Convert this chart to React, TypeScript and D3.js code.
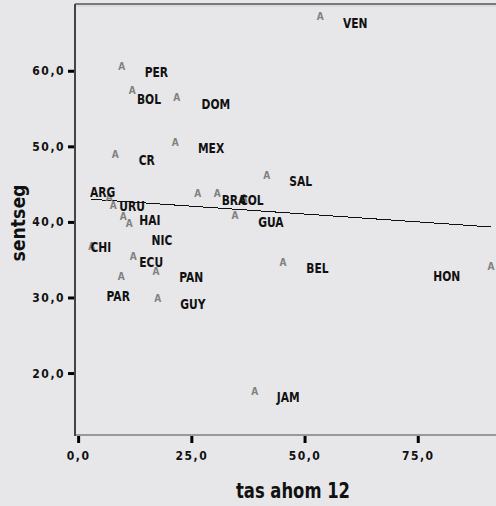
import React from 'react';
import * as d3 from 'd3';

// marker positions (tas ahom 12, sentseg)
const pointX = [53.36, 9.5, 11.84, 21.64, 21.33, 8.08, 41.52, 26.28, 30.61, 36.51, 34.52, 45.12, 91.06, 38.87, 6.76, 7.64, 9.85, 11.17, 2.87, 12.06, 17.07, 9.41, 17.45];
const pointY = [67.3, 60.66, 57.49, 56.56, 50.65, 49.02, 46.24, 43.82, 43.9, 43.16, 40.95, 34.7, 34.21, 17.67, 43.29, 42.28, 40.82, 39.85, 36.76, 35.44, 33.54, 32.79, 30.01];
const names = ['VEN', 'PER', 'BOL', 'DOM', 'MEX', 'CR', 'SAL', 'BRA', 'COL', '', 'GUA', 'BEL', 'HON', 'JAM', 'ARG', 'URU', 'HAI', 'NIC', 'CHI', 'ECU', 'PAN', 'PAR', 'GUY'];
// where SPSS put each case label (left edge, middle), in data units
const labelX = [58.37, 14.58, 12.88, 27.16, 26.35, 13.25, 46.51, 31.58, 35.62, 0, 39.66, 50.27, 78.31, 43.73, 2.5, 8.97, 13.38, 16.12, 2.61, 13.38, 22.22, 6.18, 22.44];
const labelY = [66.39, 59.91, 56.3, 55.63, 49.85, 48.32, 45.49, 42.94, 42.94, 0, 40.07, 34.03, 32.92, 16.92, 44.03, 42.14, 40.38, 37.65, 36.76, 34.78, 32.79, 30.24, 29.27];

// linear fit line, ends
const fitX = [2.72, 91.06];
const fitY = [43.07, 39.4];

const xTicks = [0, 25, 50, 75];
const yTicks = [20, 30, 40, 50, 60];

const W = 496;
const H = 506;
const bg = '#e7e7e9';
const labelFont = "'DejaVu Sans Condensed', 'DejaVu Sans', sans-serif";

const fmt = (v: number) => d3.format('.1f')(v).replace('.', ',');

export default function App() {
  const left = 75, right = 500, top = 4, bottom = 435;
  const x = d3.scaleLinear().domain([-0.8, 93.05]).range([left, right]);
  const y = d3.scaleLinear().domain([11.87, 68.9]).range([bottom, top]);

  const line = d3.line<number>()
    .x((d) => x(fitX[d]))
    .y((d) => y(fitY[d]));

  return (
    <svg width={W} height={H} style={{ position: 'absolute', left: 0, top: 0 }}>
      <rect width={W} height={H} fill={bg} />

      {/* frame */}
      <line x1={left} x2={W} y1={top} y2={top} stroke="#555" strokeWidth={1.5} />
      <line x1={left + 1} x2={W} y1={top + 2} y2={top + 2} stroke="#d0d0d2" strokeWidth={1} />
      <line x1={left} x2={W} y1={bottom} y2={bottom} stroke="#999" strokeWidth={2} />
      <line x1={left} x2={left} y1={top} y2={bottom + 1} stroke="#444" strokeWidth={2} />

      {/* y axis */}
      {yTicks.map((t) => (
        <g key={'y' + t}>
          <line x1={left - 7} x2={left - 1} y1={y(t)} y2={y(t)} stroke="#000" strokeWidth={3} />
          <text x={left - 10} y={y(t) + 4} textAnchor="end" fontFamily={labelFont} fontWeight="bold"
            fontSize={12} letterSpacing={1.5} fill="#111">{fmt(t)}</text>
        </g>
      ))}

      {/* x axis */}
      {xTicks.map((t) => (
        <g key={'x' + t}>
          <line x1={x(t)} x2={x(t)} y1={bottom + 1} y2={bottom + 8} stroke="#000" strokeWidth={3} />
          <text x={x(t)} y={bottom + 25} textAnchor="middle" fontFamily={labelFont} fontWeight="bold"
            fontSize={12} letterSpacing={1.5} fill="#111">{fmt(t)}</text>
        </g>
      ))}

      {/* fit line */}
      <path d={line([0, 1]) || ''} fill="none" stroke="#111" strokeWidth={1} shapeRendering="crispEdges" />

      {/* markers */}
      {pointX.map((px, i) => (
        <text key={'m' + i} x={x(px)} y={y(pointY[i]) + 3.6} textAnchor="middle" fontFamily={labelFont}
          fontWeight="bold" fontSize={10} fill="#808080">A</text>
      ))}

      {/* case labels, squeezed like the condensed face of the original */}
      {names.map((n, i) => n && (
        <text key={'l' + i} transform={`translate(${x(labelX[i])},${y(labelY[i]) + 5}) scale(0.85,1)`}
          fontFamily={labelFont} fontWeight="bold" fontSize={14} fill="#111">{n}</text>
      ))}

      {/* titles */}
      <text transform={`translate(25,${223}) rotate(-90)`} textAnchor="middle" fontFamily={labelFont}
        fontWeight="bold" fontSize={19} textLength={77} lengthAdjust="spacingAndGlyphs" fill="#111">sentseg</text>
      <text x={293} y={498} textAnchor="middle" fontFamily={labelFont} fontWeight="bold" fontSize={21}
        textLength={114} lengthAdjust="spacingAndGlyphs" fill="#111">tas ahom 12</text>
    </svg>
  );
}
